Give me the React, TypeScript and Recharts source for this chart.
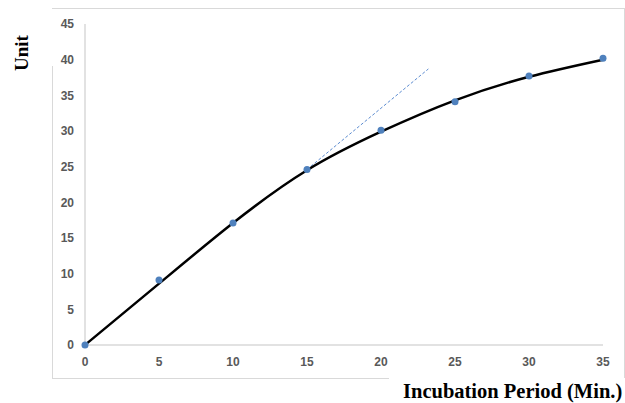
import React, { useLayoutEffect } from "react";
import { ComposedChart, Line, Scatter, XAxis, YAxis } from "recharts";

const xTicks = [0, 5, 10, 15, 20, 25, 30, 35];
const yTicks = [0, 5, 10, 15, 20, 25, 30, 35, 40, 45];

const measuredX = [0, 5, 10, 15, 20, 25, 30, 35];
const measuredY = [0, 9.1, 17.1, 24.6, 30.1, 34.1, 37.7, 40.2];

const fitX = [0, 5, 10, 15, 20, 25, 30, 35];
const fitY = [0, 8.6, 17.1, 24.5, 29.9, 34.3, 37.6, 40.0];

const tangentX = [15, 23.2];
const tangentY = [24.6, 38.7];

const measured = measuredX.map((x, i) => ({ x, y: measuredY[i] }));
const fit = fitX.map((x, i) => ({ x, y: fitY[i] }));
const tangent = tangentX.map((x, i) => ({ x, y: tangentY[i] }));

const tickStyle = {
  fill: "#595959",
  fontSize: 12,
  fontWeight: 700,
  fontFamily: "'Liberation Sans', Arial, sans-serif",
};

const frameColor = "#d9d9d9";

export default function App() {
  useLayoutEffect(() => {
    document.body.style.margin = "0";
    document.body.style.overflow = "hidden";
  }, []);
  return (
    <div style={{ position: "relative", width: 625, height: 403, overflow: "hidden", background: "#fff" }}>
      <div style={{ position: "absolute", left: 52, top: 8, width: 573, height: 1, background: frameColor }} />
      <div style={{ position: "absolute", left: 624, top: 8, width: 1, height: 370, background: frameColor }} />
      <div style={{ position: "absolute", left: 52, top: 66, width: 1, height: 313, background: frameColor }} />
      <div style={{ position: "absolute", left: 52, top: 378, width: 337, height: 1, background: frameColor }} />
      <div style={{ position: "absolute", left: 0, top: 0, width: 625, height: 403 }}>
        <ComposedChart
          width={625}
          height={403}
          margin={{ top: 24, right: 22, bottom: 28, left: 35 }}
        >
          <XAxis
            dataKey="x"
            type="number"
            domain={[0, 35]}
            ticks={xTicks}
            tickLine={false}
            tickSize={6}
            tickMargin={6}
            axisLine={{ stroke: frameColor, strokeWidth: 1.5 }}
            tick={tickStyle}
            height={30}
            allowDuplicatedCategory={false}
          />
          <YAxis
            dataKey="y"
            type="number"
            domain={[0, 45]}
            ticks={yTicks}
            tickLine={false}
            tickSize={6}
            tickMargin={5}
            axisLine={{ stroke: frameColor, strokeWidth: 1.5 }}
            tick={tickStyle}
            width={50}
          />
          <Line
            data={tangent}
            dataKey="y"
            type="linear"
            stroke="#5b8bd0"
            strokeWidth={1}
            strokeDasharray="3 2"
            dot={false}
            activeDot={false}
            isAnimationActive={false}
          />
          <Scatter
            data={measured}
            dataKey="y"
            fill="#4f81bd"
            shape={(p: any) => <circle cx={p.cx} cy={p.cy} r={3.5} fill="#4f81bd" />}
            isAnimationActive={false}
          />
          <Line
            data={fit}
            dataKey="y"
            type="natural"
            stroke="#000"
            strokeWidth={2.5}
            dot={false}
            activeDot={false}
            isAnimationActive={false}
          />
        </ComposedChart>
      </div>
      <div
        style={{
          position: "absolute",
          left: 22,
          top: 52.5,
          transform: "translate(-50%, -50%) rotate(-90deg)",
          fontFamily: "'Liberation Serif', 'Times New Roman', serif",
          fontWeight: 700,
          fontSize: 19,
          lineHeight: "20px",
          whiteSpace: "nowrap",
          color: "#000",
        }}
      >
        Unit
      </div>
      <div
        style={{
          position: "absolute",
          left: 403,
          top: 381,
          fontFamily: "'Liberation Serif', 'Times New Roman', serif",
          fontWeight: 700,
          fontSize: 20.5,
          lineHeight: "20px",
          whiteSpace: "nowrap",
          color: "#000",
        }}
      >
        Incubation Period (Min.)
      </div>
    </div>
  );
}
